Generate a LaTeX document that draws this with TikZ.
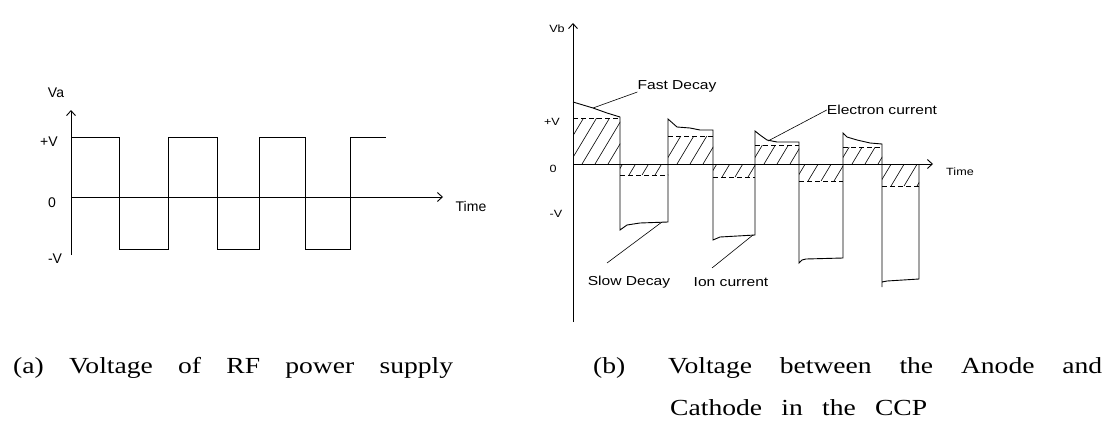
\documentclass[tikz,border=0pt]{standalone}
\usepackage{fontspec}
\setmainfont{Liberation Serif}
\newfontfamily\capfont[FakeStretch=1.2]{Liberation Serif}
\newfontfamily\axfont{Liberation Sans}
\newfontfamily\tagfont[FakeStretch=1.2]{Liberation Sans}
\usetikzlibrary{arrows.meta}

\tikzset{
  wave/.style={line width=0.9pt, line join=miter},
  axis/.style={line width=0.9pt, -{Straight Barb[length=5pt,width=9pt]}},
  hatch/.style={line width=0.6pt},
  level/.style={line width=0.7pt, dash pattern=on 5pt off 3pt},
  leader/.style={line width=0.6pt},
  axlbl/.style={font=\axfont\fontsize{14}{16}\selectfont, inner sep=0pt},
  smalllbl/.style={font=\tagfont\fontsize{10.5}{12}\selectfont, inner sep=0pt},
  tag/.style={font=\tagfont\fontsize{13}{15}\selectfont, inner sep=0pt},
  caption/.style={font=\capfont\fontsize{23}{26}\selectfont, inner sep=0pt, anchor=base west}
}

% slanted hatching inside a box: left, top, right, bottom
\newcommand\hatchbox[4]{%
  \begin{scope}
    \clip (#1,#2) rectangle (#3,#4);
    \foreach \hx in {-30,-17,...,60}
      \draw[hatch] ({#1+\hx},#4) -- ++({0.6*(#4-#2)},{#2-#4});
  \end{scope}}

\begin{document}
\begin{tikzpicture}[x=1pt,y=-1pt]
  \useasboundingbox (0,0) rectangle (1116,428);

  % (a) supply voltage
  \coordinate (origa) at (71,197);
  \coordinate (topa) at (71,110);
  \coordinate (enda) at (443,197);
  \draw[axis] (71,255) -- (topa);
  \draw[axis] (origa) -- (enda);
  \draw[wave] (71,137) -- (119,137) -- (119,249) -- (168,249) -- (168,137) -- (217,137)
    -- (217,249) -- (259,249) -- (259,137) -- (305,137) -- (305,249) -- (350,249)
    -- (350,137) -- (386,137);

  \node[axlbl] (va) at (56,93) {Va};
  \node[axlbl] (plusva) at (49,142) {+V};
  \node[axlbl] (zeroa) at (52,203) {0};
  \node[axlbl] (minusva) at (55,259) {-V};
  \node[axlbl] (timea) at (471,206) {Time};

  % (b) anode-cathode voltage
  \coordinate (origb) at (573,164);
  \coordinate (topb) at (573,23);
  \coordinate (endb) at (933,164);

  \foreach \l/\t/\r/\b in {573/118/620/164, 668/136/713/164, 755/145/799/164, 843/147/882/164}{
    \hatchbox{\l}{\t}{\r}{\b}
    \draw[level] (\l,\t) -- (\r,\t);
  }
  \foreach \l/\t/\r/\b in {620/164/668/175, 713/164/755/177, 799/164/843/181, 882/164/919/186}{
    \hatchbox{\l}{\t}{\r}{\b}
    \draw[level] (\l,\b) -- (\r,\b);
  }

  \draw[axis] (573,322) -- (topb);
  \draw[axis] (origb) -- (endb);
  \draw[wave] (573,102) -- (593,108) -- (607,113) -- (620,117) -- (620,230) -- (627,225)
    -- (640,223) -- (668,222) -- (668,119) -- (677,127) -- (690,128) -- (700,130)
    -- (713,130) -- (713,240) -- (720,237) -- (755,235) -- (755,131) -- (760,135)
    -- (767,140) -- (777,142) -- (799,142) -- (799,263) -- (802,260) -- (806,259)
    -- (843,258) -- (843,133) -- (847,137) -- (857,140) -- (870,143) -- (882,144)
    -- (882,287) -- (882,282) -- (887,281) -- (919,279) -- (919,164);

  \node[smalllbl] (vb) at (557,29) {Vb};
  \node[smalllbl] (plusvb) at (552,122) {+V};
  \node[smalllbl] (zerob) at (553,169) {0};
  \node[smalllbl] (minusvb) at (556,214) {-V};
  \node[smalllbl] (timeb) at (960,172) {Time};

  \node[tag] (fast) at (677,86) {Fast Decay};
  \node[tag] (electron) at (882,110) {Electron current};
  \node[tag] (slow) at (629,282) {Slow Decay};
  \node[tag] (ion) at (731,282) {Ion current};

  \coordinate (fdtip) at (593,108);
  \coordinate (ectip) at (768,141);
  \coordinate (sdtip) at (662,222);
  \coordinate (sdfoot) at (607,263);
  \coordinate (ictip) at (753,235);
  \coordinate (icfoot) at (712,268);
  \draw[leader] (fdtip) -- (fast.south west);
  \draw[leader] (ectip) -- (electron.west);
  \draw[leader] (sdfoot) -- (sdtip);
  \draw[leader] (icfoot) -- (ictip);

  % captions
  \node[caption] (capa) at (13,373) {\makebox[440pt][s]{(a) Voltage of RF power supply}};
  \node[caption] (tagb) at (593,373) {(b)};
  \node[caption] (capb) at (668,373) {\makebox[434pt][s]{Voltage between the Anode and}};
  \node[caption] (capbb) at (670,415) {\makebox[257pt][s]{Cathode in the CCP}};
\end{tikzpicture}
\end{document}
